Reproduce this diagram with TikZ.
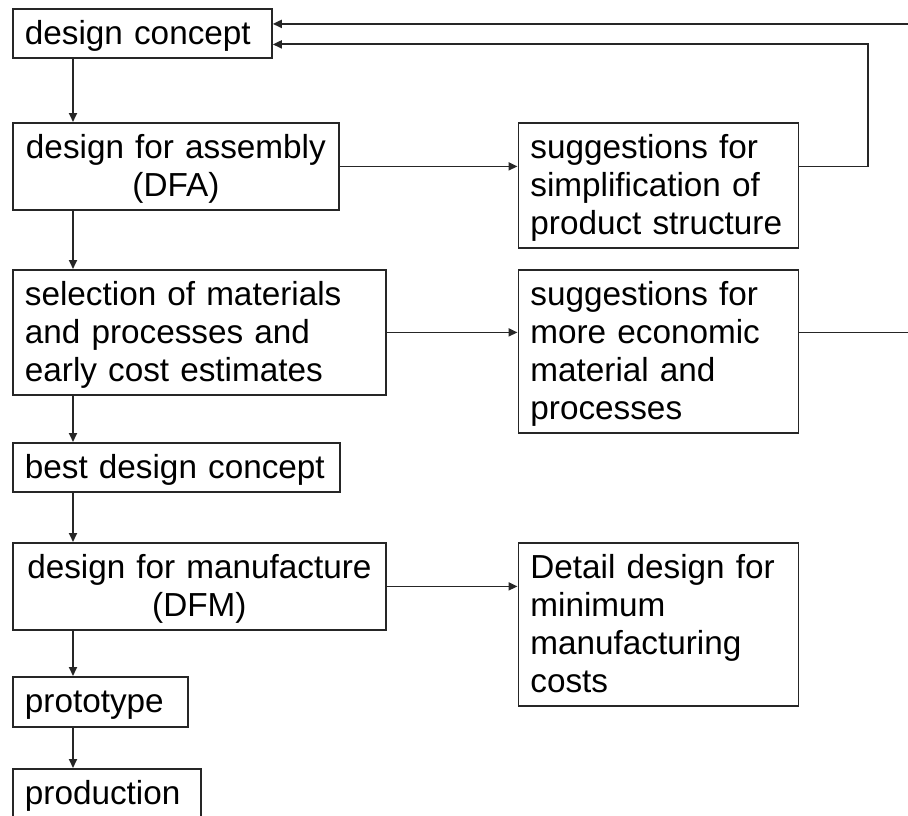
\documentclass[tikz,border=0pt]{standalone}
\usepackage{fontspec}
\setmainfont{Liberation Sans}
\usetikzlibrary{arrows.meta}
\begin{document}
\begin{tikzpicture}[x=1pt,y=1pt,
  font=\fontsize{33.3pt}{38pt}\selectfont,
  boxstyle/.style={draw=black!85, line width=1.8pt, anchor=north west,
    inner xsep=12pt, inner ysep=0pt, text height=36pt},
  leftbox/.style={boxstyle, align=left},
  centerbox/.style={boxstyle, align=center},
  conn/.style={draw=black!85, line width=1.8pt},
  arr/.style={conn, -{Triangle[length=9pt,width=8pt]}}]
\path[use as bounding box] (0,0) rectangle (908,-816);
% main column
\node[leftbox, text width=235, text depth=13pt] (dc) at (12,-8) {design concept};
\node[centerbox, text width=302, text depth=51pt] (dfa) at (12,-122) {design for assembly\\(DFA)};
\node[leftbox, text width=349, text depth=89pt] (sel) at (12,-269) {selection of materials\\and processes and\\early cost estimates};
\node[leftbox, text width=303, text depth=13pt] (best) at (12,-442) {best design concept};
\node[centerbox, text width=349, text depth=51pt] (dfm) at (12,-542) {design for manufacture\\(DFM)};
\node[leftbox, text width=151, text depth=14pt] (proto) at (12,-676) {prototype};
\node[leftbox, text width=164, text depth=20pt] (prod) at (12,-768) {production};
% right column
\node[leftbox, text width=256, text depth=89pt] (s1) at (517.5,-122) {suggestions for\\simplification of\\product structure};
\node[leftbox, text width=256, text depth=127pt] (s2) at (517.5,-269) {suggestions for\\more economic\\material and\\processes};
\node[leftbox, text width=256, text depth=127pt] (det) at (517.5,-542) {Detail design for\\minimum\\manufacturing\\costs};
% helper coordinates
\coordinate (spine) at (73,0);
\coordinate (loopx) at (868,0);
\coordinate (edge) at (910,0);
% vertical chain
\draw[arr] (dc.south -| spine) -- (dfa.north -| spine);
\draw[arr] (dfa.south -| spine) -- (sel.north -| spine);
\draw[arr] (sel.south -| spine) -- (best.north -| spine);
\draw[arr] (best.south -| spine) -- (dfm.north -| spine);
\draw[arr] (dfm.south -| spine) -- (proto.north -| spine);
\draw[arr] (proto.south -| spine) -- (prod.north -| spine);
% horizontal arrows
\draw[arr] (dfa.east) -- (dfa.east -| s1.west);
\draw[arr] (sel.east) -- (sel.east -| s2.west);
\draw[arr] (dfm.east) -- (dfm.east -| det.west);
% feedback lines
\coordinate (fb1) at ([yshift=-11pt]dc.east);
\coordinate (fb2) at ([yshift=9.5pt]dc.east);
\draw[arr] (dfa.east -| s1.east) -- (dfa.east -| loopx) -- (fb1 -| loopx) -- (fb1);
\draw[conn] (sel.east -| s2.east) -- (sel.east -| edge);
\draw[arr] (fb2 -| edge) -- (fb2);
\end{tikzpicture}
\end{document}
